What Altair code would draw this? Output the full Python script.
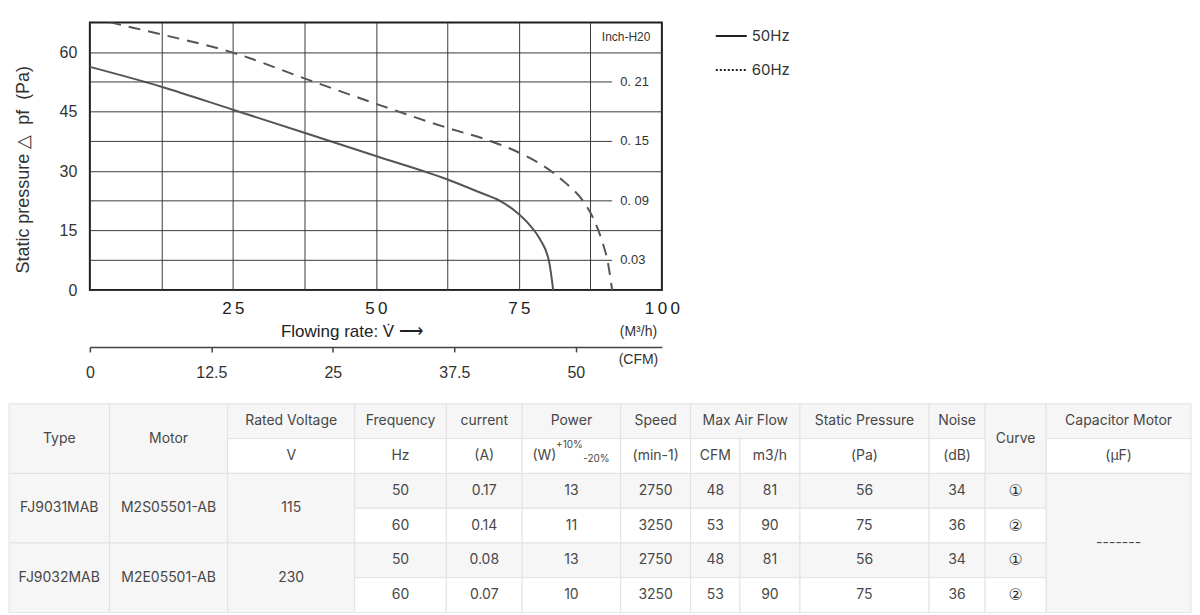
import altair as alt
import pandas as pd

# ---------------- fan curve data ----------------
series = ["50Hz", "60Hz"]
flow_50 = [0, 12.5, 25, 37.5, 50, 62.3, 68.2, 71.7, 74.6, 77.0, 78.7, 80.3, 81.0]
pa_50 = [56.3, 51.3, 45.5, 39.7, 33.8, 28.0, 24.6, 22.5, 19.6, 16.2, 12.8, 7.0, 0]
flow_60 = [0, 3.1, 12.5, 25, 37.5, 50.8, 62.3, 70.0, 75.0, 81.0, 83.1, 86.3, 88.0, 89.5, 90.6, 91.3]
pa_60 = [68.8, 67.7, 64.5, 59.9, 53.4, 46.6, 41.0, 37.6, 34.7, 29.6, 27.1, 22.3, 18.1, 12.5, 6.6, 0]

flow_grid = [0, 12.5, 25, 37.5, 50, 62.5, 75, 87.5, 100]
pa_labels = [0, 15, 30, 45, 60]
pa_max = 67.5
inch_pa = [52.5, 37.5, 22.5, 7.5]
inch_text = ["0. 21", "0. 15", "0. 09", "0.03"]
inch_title = "Inch-H20"
cfm_ticks = [0, 12.5, 25, 37.5, 50]
m3h_per_cfm = 1.699
y_title = "Static pressure \u25b3\u00a0 pf\u00a0 (Pa)"
x_title = "Flowing rate: V\u0307 \u27f6"
unit_titles = ["(M\u00b3/h)", "(CFM)"]

# ---------------- table data ----------------
header_top = ["Type", "Motor", "Rated Voltage", "Frequency", "current", "Power",
              "Speed", "Max Air Flow", "Static Pressure", "Noise", "Curve", "Capacitor Motor"]
header_units = ["V", "Hz", "(A)", "(W)", "(min-1)", "CFM", "m3/h", "(Pa)", "(dB)", "(\u03bcF)"]
power_tol = ["+10%", "-20%"]
types = ["FJ9031MAB", "FJ9032MAB"]
motors = ["M2S05501-AB", "M2E05501-AB"]
voltages = ["115", "230"]
freqs = ["50", "60", "50", "60"]
currents = ["0.17", "0.14", "0.08", "0.07"]
powers = ["13", "11", "13", "10"]
speeds = ["2750", "3250", "2750", "3250"]
flow_cfm = ["48", "53", "48", "53"]
flow_m3h = ["81", "90", "81", "90"]
pressures = ["56", "75", "56", "75"]
noises = ["34", "36", "34", "36"]
curve_ids = ["\u2460", "\u2461", "\u2460", "\u2461"]
capacitor = "-------"

# ---------------- layout / style ----------------
COL = [0, 102, 222, 351, 444, 521, 621, 692, 742, 803, 934, 991, 1053, 1200]
N_ROWS = 6
PLOT_LEFT = 81          # distance from the page content edge to the curve plot
TABLE_W = 1184 - PLOT_LEFT
GRAY = "#f6f6f6"
WHITE = "#ffffff"
BORDER = "#e2e2e2"
GRID = "#3a3a3a"
ARIAL = "Liberation Sans"
NARROW = "Liberation Sans Narrow, Liberation Sans"
TFONT = "Inter"
TCOLOR = "#474747"
INCH_LINE_END = 91.3
INCH_LABEL_X = 92.7

# ---------------- fan curve chart ----------------
curve_df = pd.DataFrame({
    "x": flow_50 + flow_60,
    "y": pa_50 + pa_60,
    "series": [series[0]] * len(flow_50) + [series[1]] * len(flow_60),
})

xs = alt.Scale(domain=[flow_grid[0], flow_grid[-1]], nice=False, zero=False)
ys = alt.Scale(domain=[0, pa_max], nice=False, zero=False)

x_axis = alt.Axis(
    values=flow_grid, grid=True, gridColor=GRID, gridWidth=1, domain=False,
    ticks=False, tickSize=0, labelFlush=False, labelOverlap=False,
    labelExpr="datum.value > 0 && datum.value % 25 == 0 ? join(split(datum.label, ''), '\u2009') : ''",
    labelFont=ARIAL, labelFontSize=17, labelColor="#222", labelPadding=11,
    title=x_title, titleFont=ARIAL, titleFontSize=17, titleFontWeight="normal",
    titleColor="#222", titleX=262, titleY=42, titleBaseline="middle",
)
y_axis = alt.Axis(
    values=pa_labels, grid=True, gridColor=GRID, gridWidth=1, domain=False,
    ticks=False, tickSize=0, labelFont=ARIAL, labelFontSize=16, labelColor="#333",
    labelPadding=13, title=y_title, titleFont=ARIAL, titleFontSize=18,
    titleFontWeight="normal", titleColor="#333", titlePadding=27, titleY=147,
)


def X(field="x"):
    return alt.X(f"{field}:Q", scale=xs, axis=x_axis)


def Y(field="y"):
    return alt.Y(f"{field}:Q", scale=ys, axis=y_axis)


base = alt.Chart(curve_df)
line50 = base.transform_filter(alt.datum.series == series[0]).mark_line(
    color="#555", strokeWidth=2, interpolate="monotone", clip=True
).encode(x=X(), y=Y())
line60 = base.transform_filter(alt.datum.series == series[1]).mark_line(
    color="#555", strokeWidth=2, strokeDash=[12, 8], interpolate="monotone", clip=True
).encode(x=X(), y=Y())

legend_layer = base.mark_line(opacity=0).encode(
    x=X(), y=Y(),
    strokeDash=alt.StrokeDash(
        "series:N",
        scale=alt.Scale(domain=series, range=[[1, 0], [2, 2]]),
        legend=alt.Legend(
            orient="none", legendX=626, legendY=-3, title=None, padding=0,
            symbolType="stroke", symbolSize=961, symbolStrokeWidth=2,
            symbolStrokeColor="#222", symbolOpacity=1, labelOffset=4,
            labelFont=TFONT, labelFontSize=15, labelColor="#333", rowPadding=9,
        ),
    ),
)

inch_df = pd.DataFrame({
    "y": inch_pa,
    "x": [flow_grid[0]] * len(inch_pa),
    "x2": [INCH_LINE_END] * len(inch_pa),
    "lx": [INCH_LABEL_X] * len(inch_pa),
    "label": inch_text,
})
inch_rules = alt.Chart(inch_df).mark_rule(color=GRID, strokeWidth=1).encode(
    x=X(), x2="x2:Q", y=Y()
)
inch_labels = alt.Chart(inch_df).mark_text(
    align="left", baseline="middle", font=ARIAL, fontSize=13, color="#333"
).encode(x=X("lx"), y=Y(), text="label:N")

inch_title_df = pd.DataFrame({
    "x": [(flow_grid[-2] + flow_grid[-1]) / 2],
    "y": [(pa_labels[-1] + pa_max) / 2],
    "t": [inch_title],
})
inch_title_layer = alt.Chart(inch_title_df).mark_text(
    align="center", baseline="middle", font=NARROW, fontSize=12, color="#333"
).encode(x=X(), y=Y(), text="t:N")

cfm_axis = alt.Axis(
    values=cfm_ticks, labelExpr="'' + datum.value", orient="bottom", offset=57, grid=False,
    domain=True, domainColor="#444", domainWidth=1.5, ticks=True, tickSize=5,
    tickColor="#444", tickWidth=1.5, labelFont=NARROW, labelFontSize=16,
    labelColor="#333", labelPadding=13, labelFlush=False, labelOverlap=False,
    title=unit_titles, titleFont=NARROW, titleFontSize=14, titleFontWeight="normal",
    titleColor="#333", titleLineHeight=28, titleX=549, titleY=-15,
    titleBaseline="middle", titleAlign="center",
)
cfm_layer = alt.Chart(pd.DataFrame({"cfm": cfm_ticks})).mark_point(opacity=0).encode(
    x=alt.X("cfm:Q", scale=alt.Scale(domain=[0, flow_grid[-1] / m3h_per_cfm], nice=False, zero=False),
            axis=cfm_axis)
)

main = alt.layer(line50, line60, legend_layer, inch_rules, inch_labels, inch_title_layer)
top = alt.layer(main, cfm_layer).resolve_scale(x="independent").properties(
    width=573, height=268,
    view=alt.ViewBackground(stroke="#1e1e1e", strokeWidth=2),
)

# ---------------- table ----------------
cells = []  # (c0, c1, r0, r1, text, fill)
for h in header_top:
    if h in ("Type", "Motor", "Curve"):
        c0 = {"Type": 0, "Motor": 1, "Curve": 11}[h]
        cells.append((c0, c0 + 1, 0, 2, h, GRAY))
    elif h == "Max Air Flow":
        cells.append((7, 9, 0, 1, h, GRAY))
    else:
        c0 = {"Rated Voltage": 2, "Frequency": 3, "current": 4, "Power": 5, "Speed": 6,
              "Static Pressure": 9, "Noise": 10, "Capacitor Motor": 12}[h]
        cells.append((c0, c0 + 1, 0, 1, h, GRAY))
unit_cols = [2, 3, 4, 5, 6, 7, 8, 9, 10, 12]
for c, u in zip(unit_cols, header_units):
    cells.append((c, c + 1, 1, 2, "" if u == "(W)" else u, WHITE))
for g in range(2):
    r0 = 2 + 2 * g
    cells.append((0, 1, r0, r0 + 2, types[g], GRAY))
    cells.append((1, 2, r0, r0 + 2, motors[g], GRAY))
    cells.append((2, 3, r0, r0 + 2, voltages[g], GRAY))
for i in range(4):
    r = 2 + i
    fill = GRAY if i % 2 == 0 else WHITE
    vals = [freqs[i], currents[i], powers[i], speeds[i], flow_cfm[i], flow_m3h[i],
            pressures[i], noises[i]]
    for k, v in enumerate(vals):
        c = 3 + k
        cells.append((c, c + 1, r, r + 1, v, fill))
    cells.append((11, 12, r, r + 1, "", fill))
cells.append((12, 13, 2, 6, capacitor, GRAY))

cells_df = pd.DataFrame(cells, columns=["c0", "c1", "r0", "r1", "text", "fill"])
cells_df["x0"] = [COL[c] for c in cells_df["c0"]]
cells_df["x1"] = [COL[c] for c in cells_df["c1"]]
cells_df["xc"] = (cells_df["x0"] + cells_df["x1"]) / 2
cells_df["rc"] = (cells_df["r0"] + cells_df["r1"]) / 2

curve_df_t = pd.DataFrame({
    "xc": [(COL[11] + COL[12]) / 2] * 4,
    "rc": [2.5 + i for i in range(4)],
    "t": curve_ids,
})

tx = alt.Scale(domain=[COL[0], COL[-1]], range=[-PLOT_LEFT, TABLE_W], nice=False, zero=False)
ty = alt.Scale(domain=[0, N_ROWS], reverse=True, nice=False, zero=False)

rects = alt.Chart(cells_df).mark_rect(stroke=BORDER, strokeWidth=1).encode(
    x=alt.X("x0:Q", scale=tx, axis=None), x2="x1:Q",
    y=alt.Y("r0:Q", scale=ty, axis=None), y2="r1:Q",
    fill=alt.Fill("fill:N", scale=None),
)
texts = alt.Chart(cells_df).mark_text(font=TFONT, fontSize=14, color=TCOLOR).encode(
    x=alt.X("xc:Q", scale=tx, axis=None), y=alt.Y("rc:Q", scale=ty, axis=None), text="text:N"
)
enc = dict(x=alt.X("xc:Q", scale=tx, axis=None), y=alt.Y("rc:Q", scale=ty, axis=None), text="t:N")
curve_texts = alt.Chart(curve_df_t).mark_text(font="DejaVu Sans", fontSize=16, color="#333").encode(**enc)

pw = cells_df[(cells_df["c0"] == 5) & (cells_df["r0"] == 1)][["xc", "rc"]].copy()
pw_w = pw.assign(t=header_units[3])
pw_up = pw.assign(t=power_tol[0])
pw_dn = pw.assign(t=power_tol[1])
w_text = alt.Chart(pw_w).mark_text(font=TFONT, fontSize=14, color=TCOLOR, dx=-27).encode(**enc)
up_text = alt.Chart(pw_up).mark_text(font=TFONT, fontSize=10, color=TCOLOR, dx=-2, dy=-11).encode(**enc)
dn_text = alt.Chart(pw_dn).mark_text(font=TFONT, fontSize=10, color=TCOLOR, dx=25, dy=3).encode(**enc)

table = alt.layer(rects, texts, curve_texts, w_text, up_text, dn_text).properties(
    width=TABLE_W, height=209,
    view=alt.ViewBackground(stroke="transparent", strokeWidth=0),
)

chart = alt.vconcat(top, table, spacing=21).resolve_scale(
    strokeDash="independent"
).resolve_legend(strokeDash="independent").properties(
    padding={"left": 0, "top": 7, "right": 0, "bottom": 0}
).configure_view(strokeWidth=0)

chart.save("out.html", embed_options={"renderer": "svg", "actions": False})
